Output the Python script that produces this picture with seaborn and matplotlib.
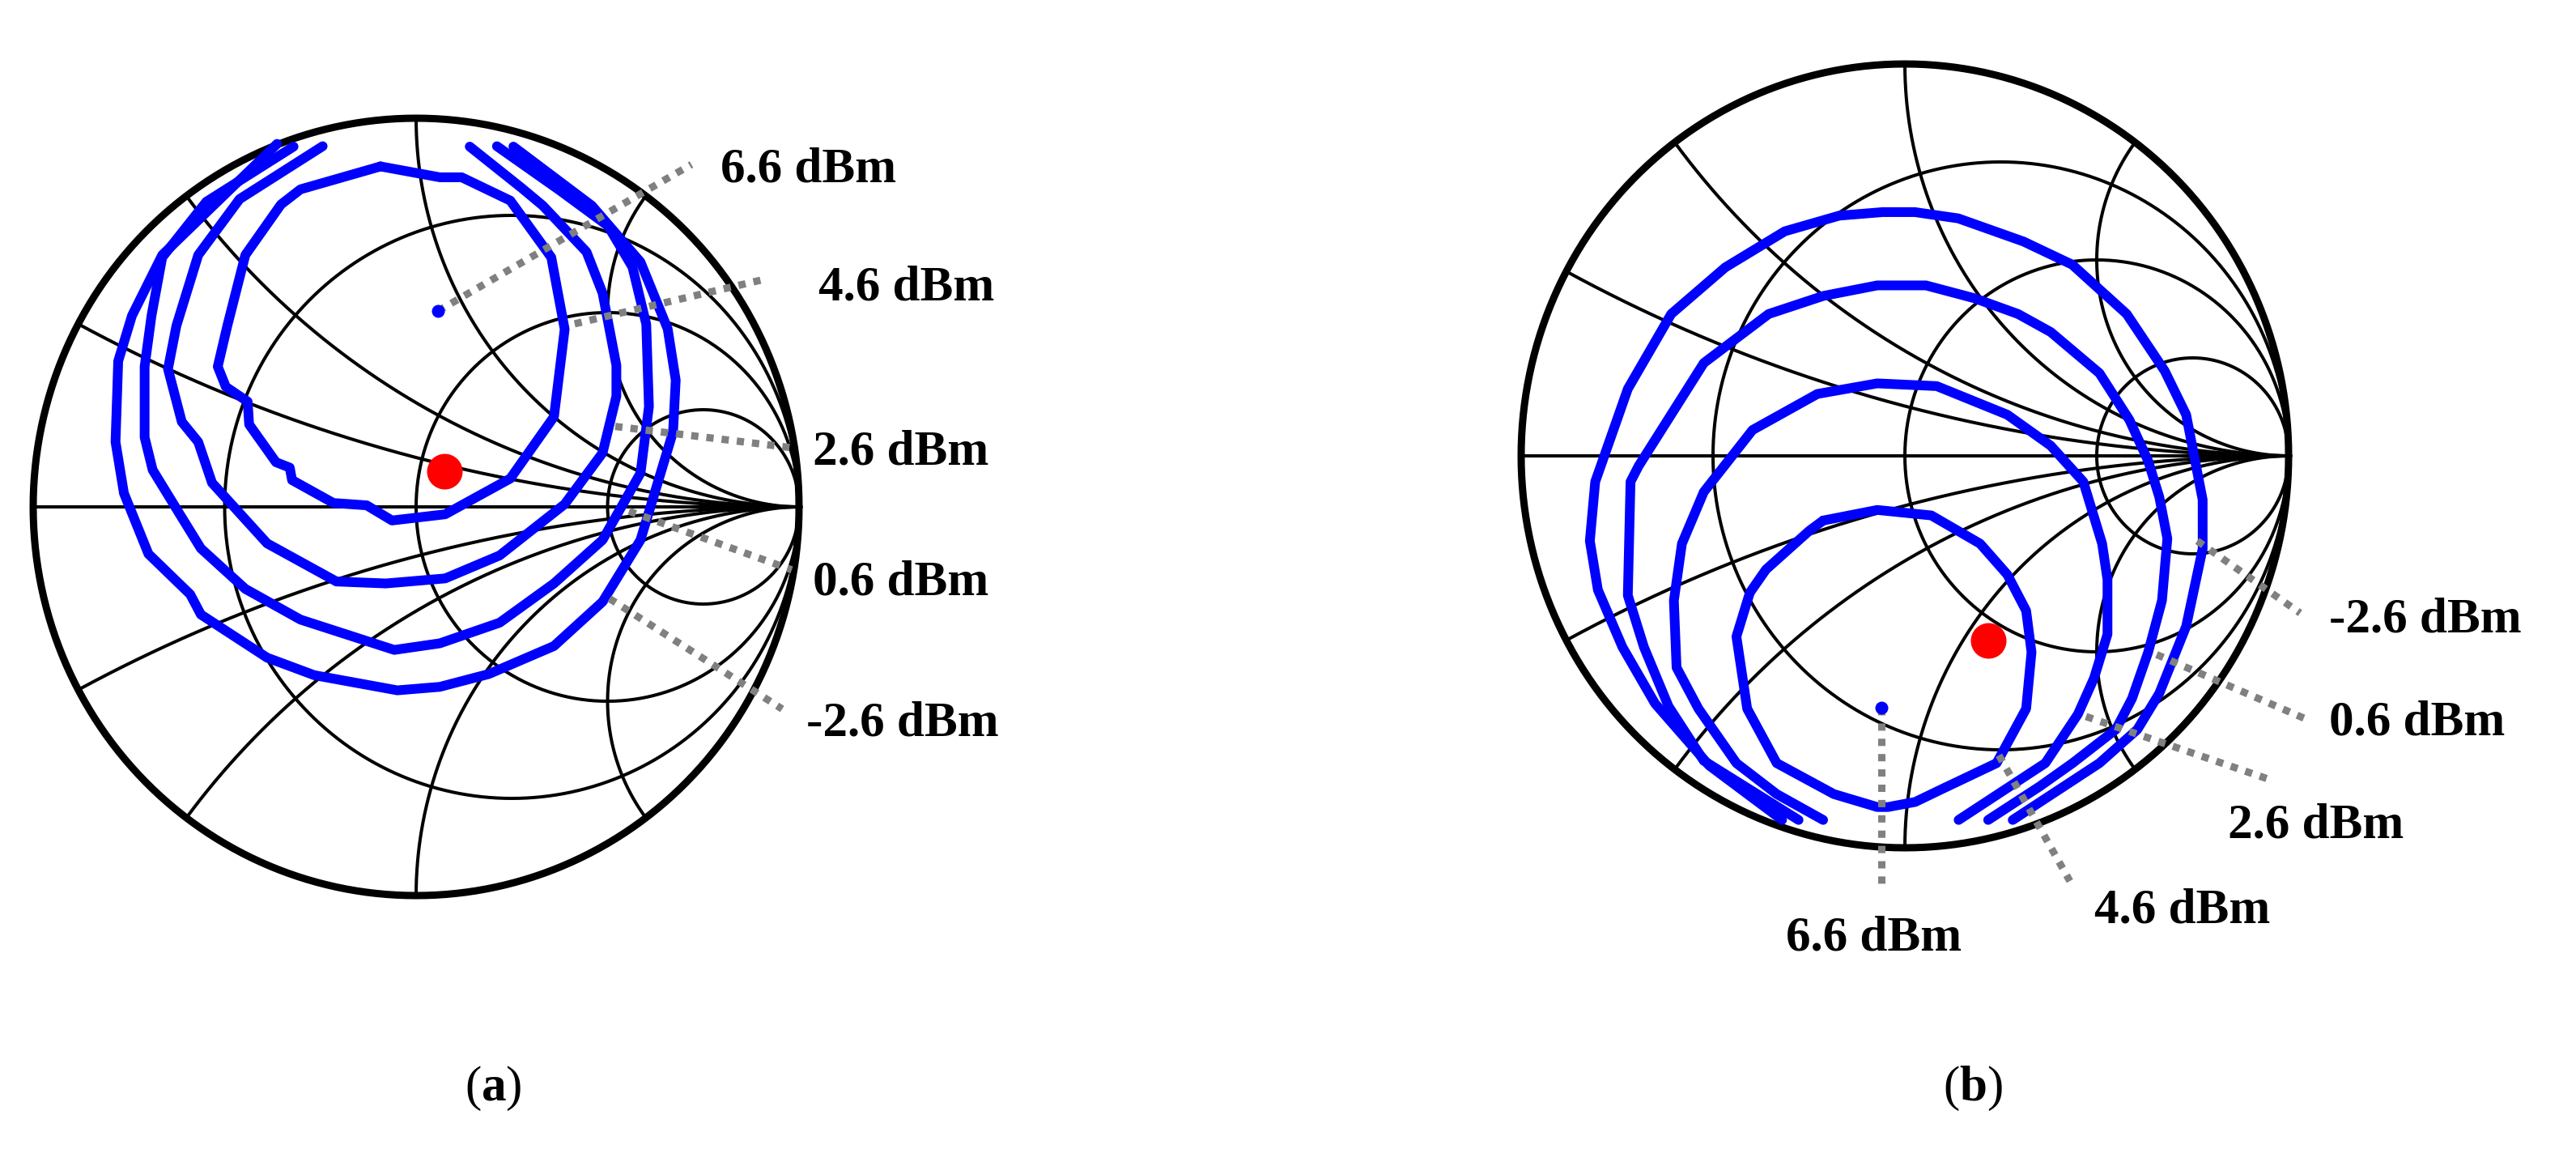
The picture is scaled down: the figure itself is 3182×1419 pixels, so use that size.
import numpy as np
import matplotlib
matplotlib.use("Agg")
import matplotlib.pyplot as plt
import seaborn as sns

# Smith chart grid values
R_CIRCLES = [1 / 3, 1, 3]
X_ARCS = [0.25, 0.5, 1, 2]

LABELS = ["6.6 dBm", "4.6 dBm", "2.6 dBm", "0.6 dBm", "-2.6 dBm"]

# (a) load-pull contours, reflection coefficient (re, im)
A_46 = [(-0.093, 0.876), (-0.302, 0.817), (-0.353, 0.778), (-0.446, 0.648), (-0.493, 0.466),
        (-0.518, 0.361), (-0.497, 0.309), (-0.440, 0.271), (-0.436, 0.212), (-0.366, 0.115),
        (-0.330, 0.101), (-0.324, 0.069), (-0.216, 0.010), (-0.129, 0.004), (-0.063, -0.035),
        (0.076, -0.019), (0.246, 0.073), (0.360, 0.232), (0.388, 0.457), (0.353, 0.642),
        (0.246, 0.788), (0.119, 0.848), (0.062, 0.848), (-0.093, 0.876)]
A_26 = [(-0.244, 0.928), (-0.461, 0.792), (-0.569, 0.648), (-0.626, 0.466), (-0.648, 0.355),
        (-0.612, 0.219), (-0.569, 0.167), (-0.533, 0.062), (-0.389, -0.094), (-0.208, -0.192),
        (-0.079, -0.197), (0.076, -0.184), (0.218, -0.125), (0.388, 0.007), (0.487, 0.139),
        (0.523, 0.285), (0.523, 0.364), (0.487, 0.550), (0.445, 0.656), (0.331, 0.775),
        (0.275, 0.821), (0.140, 0.927)]
A_06 = [(-0.320, 0.927), (-0.548, 0.785), (-0.663, 0.642), (-0.691, 0.492), (-0.709, 0.361),
        (-0.709, 0.179), (-0.688, 0.095), (-0.619, -0.016), (-0.562, -0.107), (-0.446, -0.211),
        (-0.302, -0.290), (-0.057, -0.368), (0.062, -0.351), (0.218, -0.298), (0.360, -0.197),
        (0.487, -0.085), (0.586, 0.087), (0.608, 0.258), (0.601, 0.470), (0.565, 0.617),
        (0.501, 0.723), (0.374, 0.815), (0.211, 0.928)]
A_N26 = [(-0.363, 0.934), (-0.663, 0.648), (-0.742, 0.492), (-0.778, 0.375), (-0.785, 0.167),
         (-0.763, 0.035), (-0.699, -0.121), (-0.590, -0.225), (-0.562, -0.277), (-0.389, -0.388),
         (-0.266, -0.433), (-0.049, -0.472), (0.062, -0.463), (0.190, -0.430), (0.360, -0.358),
         (0.487, -0.244), (0.586, -0.085), (0.671, 0.193), (0.678, 0.326), (0.657, 0.458),
         (0.586, 0.630), (0.459, 0.775), (0.254, 0.927)]
A_PEAK = (0.057, 0.504)     # 6.6 dBm
A_OPT = (0.074, 0.092)      # red marker

# (b) load-pull contours
B_46 = [(-0.213, -0.165), (-0.072, -0.138), (0.069, -0.152), (0.196, -0.224), (0.267, -0.303),
        (0.316, -0.395), (0.330, -0.501), (0.316, -0.645), (0.239, -0.784), (0.097, -0.850),
        (0.027, -0.883), (-0.044, -0.896), (-0.072, -0.896), (-0.185, -0.863), (-0.334, -0.784),
        (-0.411, -0.645), (-0.439, -0.461), (-0.404, -0.349), (-0.362, -0.290), (-0.249, -0.191),
        (-0.213, -0.165)]
B_26 = [(-0.213, -0.929), (-0.334, -0.863), (-0.439, -0.784), (-0.538, -0.645), (-0.595, -0.540),
        (-0.602, -0.369), (-0.581, -0.224), (-0.524, -0.092), (-0.397, 0.066), (-0.228, 0.158),
        (-0.072, 0.185), (0.083, 0.178), (0.267, 0.105), (0.380, 0.026), (0.465, -0.066),
        (0.514, -0.224), (0.528, -0.316), (0.528, -0.455), (0.493, -0.567), (0.451, -0.659),
        (0.366, -0.784), (0.140, -0.929)]
B_06 = [(-0.277, -0.929), (-0.524, -0.778), (-0.616, -0.639), (-0.680, -0.488), (-0.722, -0.356),
        (-0.715, -0.066), (-0.694, -0.026), (-0.524, 0.237), (-0.355, 0.362), (-0.213, 0.408),
        (-0.072, 0.435), (0.055, 0.435), (0.182, 0.402), (0.295, 0.362), (0.380, 0.316),
        (0.507, 0.211), (0.585, 0.092), (0.634, -0.013), (0.663, -0.105), (0.684, -0.211),
        (0.670, -0.369), (0.634, -0.501), (0.592, -0.619), (0.550, -0.698), (0.437, -0.784),
        (0.352, -0.843), (0.217, -0.929)]
B_N26 = [(-0.320, -0.929), (-0.510, -0.790), (-0.651, -0.632), (-0.736, -0.488), (-0.800, -0.342),
         (-0.821, -0.217), (-0.807, -0.066), (-0.722, 0.171), (-0.609, 0.362), (-0.468, 0.481),
         (-0.313, 0.573), (-0.171, 0.613), (-0.058, 0.622), (0.026, 0.622), (0.139, 0.606),
         (0.309, 0.547), (0.436, 0.488), (0.578, 0.362), (0.677, 0.217), (0.733, 0.105),
         (0.776, -0.112), (0.776, -0.237), (0.733, -0.435), (0.663, -0.606), (0.606, -0.698),
         (0.507, -0.784), (0.281, -0.929)]
B_PEAK = (-0.061, -0.642)
B_OPT = (0.217, -0.471)

# leader lines: start -> end, and label anchor (left edge, vertical centre), in label order
LEADERS_A = [((0.057, 0.504), (0.719, 0.881)), ((0.414, 0.471), (0.903, 0.584)),
             ((0.520, 0.207), (0.975, 0.153)), ((0.556, -0.011), (0.981, -0.162)),
             ((0.505, -0.236), (0.956, -0.520))]
TEXT_A = [(0.794, 0.881), (1.051, 0.577), (1.036, 0.154), (1.036, -0.183), (1.019, -0.544)]

LEADERS_B = [((-0.061, -0.642), (-0.061, -1.103)), ((0.245, -0.764), (0.430, -1.085)),
             ((0.472, -0.665), (0.945, -0.824)), ((0.656, -0.507), (1.044, -0.671)),
             ((0.762, -0.217), (1.030, -0.401))]
TEXT_B = [(-0.310, -1.219), (0.494, -1.147), (0.842, -0.930), (1.105, -0.669), (1.105, -0.405)]

W, H = 3182, 1419
PT = 72 / 100  # points per pixel at dpi 100

sns.set_style("white")
plt.rcParams["font.family"] = ["Liberation Serif", "DejaVu Serif"]
plt.rcParams["text.color"] = "black"
plt.rcParams["mathtext.fontset"] = "custom"
plt.rcParams["mathtext.rm"] = "Liberation Serif"
plt.rcParams["mathtext.bf"] = "Liberation Serif:bold"

fig = plt.figure(figsize=(W / 100, H / 100), dpi=100)
L = 1.05


def chart_axes(cx, cy, rx, ry):
    ax = fig.add_axes([(cx - rx * L) / W, (H - (cy + ry * L)) / H,
                       2 * rx * L / W, 2 * ry * L / H])
    ax.set_xlim(-L, L)
    ax.set_ylim(-L, L)
    ax.set_aspect("auto")
    ax.axis("off")
    return ax, ry


def smith_grid(ax):
    t = np.linspace(0, 2 * np.pi, 721)
    glw = 4 * PT
    for r in R_CIRCLES:
        c, rad = r / (1 + r), 1 / (1 + r)
        ax.plot(c + rad * np.cos(t), rad * np.sin(t), color="k", lw=glw, zorder=1)
    rr = np.concatenate([[0], np.logspace(-3, 4, 700)])
    for x in X_ARCS:
        for s in (1, -1):
            g = (rr + 1j * s * x - 1) / (rr + 1j * s * x + 1)
            ax.plot(g.real, g.imag, color="k", lw=glw, zorder=1)
    ax.plot([-1, 1], [0, 0], color="k", lw=glw, zorder=1)
    ax.plot(np.cos(t), np.sin(t), color="k", lw=9 * PT, zorder=3)


def contours(ax, curves, peak, opt):
    for pts in curves:
        xs, ys = zip(*pts)
        sns.lineplot(x=list(xs), y=list(ys), sort=False, estimator=None, ax=ax,
                     color="#0000ff", lw=12 * PT, zorder=4)
    sns.scatterplot(x=[peak[0]], y=[peak[1]], ax=ax, color="#0000ff", s=(16 * PT) ** 2,
                    linewidth=0, zorder=6)
    sns.scatterplot(x=[opt[0]], y=[opt[1]], ax=ax, color="#ff0000", s=(44 * PT) ** 2,
                    linewidth=0, zorder=7)


def leaders(ax, lines, texts, ry):
    half = 21 / ry  # half digit height
    for lab, ((x0, y0), (x1, y1)), (tx, ty) in zip(LABELS, lines, texts):
        ax.plot([x0, x1], [y0, y1], color="#808080", lw=9 * PT, ls=(0, (1, 1.1)),
                dash_capstyle="butt", zorder=5, clip_on=False)
        ax.text(tx, ty - half, lab, ha="left", va="baseline", fontsize=44,
                fontweight="bold", color="black", clip_on=False)


ax_a, ry_a = chart_axes(514, 626, 473, 480)
smith_grid(ax_a)
contours(ax_a, [A_46, A_26, A_06, A_N26], A_PEAK, A_OPT)
leaders(ax_a, LEADERS_A, TEXT_A, ry_a)

ax_b, ry_b = chart_axes(2353, 563, 474, 484)
smith_grid(ax_b)
contours(ax_b, [B_46, B_26, B_06, B_N26], B_PEAK, B_OPT)
leaders(ax_b, LEADERS_B, TEXT_B, ry_b)

fig.text(609 / W, 1 - 1344 / H, r"($\mathbf{a}$)", ha="center", va="center", fontsize=44)
fig.text(2437 / W, 1 - 1344 / H, r"($\mathbf{b}$)", ha="center", va="center", fontsize=44)

fig.savefig("out.png", dpi=100, facecolor="white")
